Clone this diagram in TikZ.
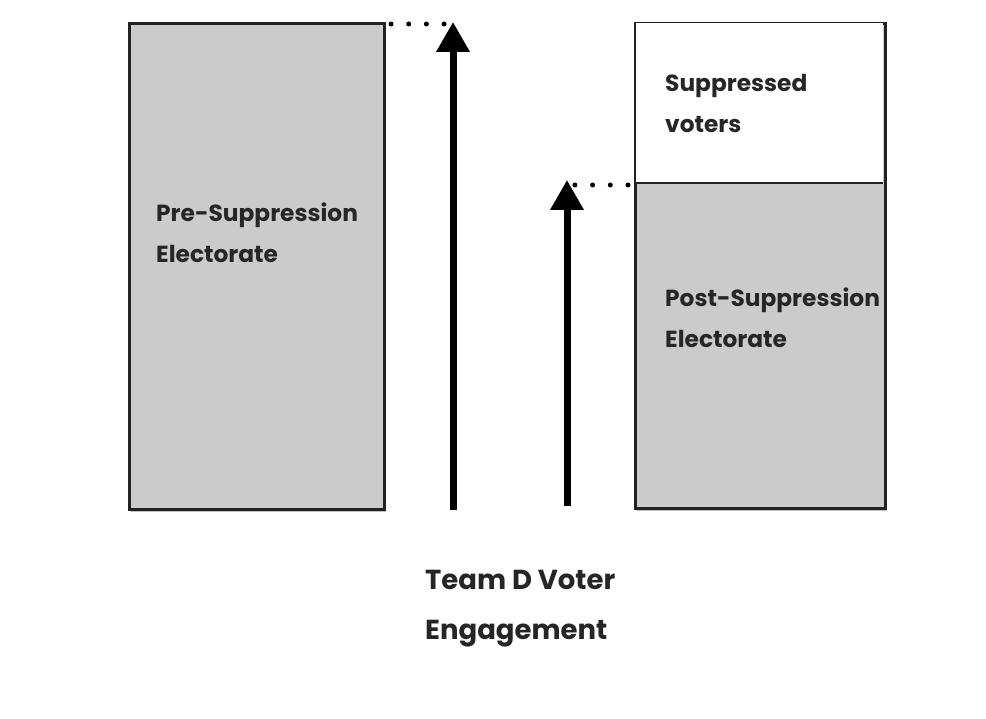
\documentclass[tikz,border=0pt]{standalone}
\usepackage{fontspec}
\setmainfont{Poppins}
\usetikzlibrary{arrows.meta,shadows}
\definecolor{boxgray}{HTML}{CBCBCB}
\definecolor{edge}{HTML}{222222}
\tikzset{
  panel/.style={draw=edge, line width=3pt, fill=boxgray, inner sep=0pt, anchor=north west,
    drop shadow={shadow xshift=1.5pt, shadow yshift=-2pt, opacity=0.25, fill=black}},
  label/.style={anchor=base west, inner sep=0pt, align=left, font=\fontsize{23.3}{41}\selectfont\bfseries, text=black!85},
  bigarrow/.style={line width=7pt, -{Triangle[width=32pt,length=30pt]}, black},
  dots/.style={line width=5pt, line cap=round, dash pattern=on 0pt off 17.7pt, black}
}
\begin{document}
\begin{tikzpicture}[x=1pt,y=-1pt]
\useasboundingbox[fill=white] (0,0) rectangle (986,719);
% left box
\node[panel, minimum width=255pt, minimum height=486pt] (pre) at (128,22) {};
% right box
\node[panel, minimum width=250pt, minimum height=485pt] (post) at (634,22) {};
\fill[white] (635.5,23.5) rectangle (882.5,183);
\draw[edge, line width=1.8pt] (635.5,183) -- (882.5,183) coordinate (divR);
\coordinate (divL) at (635.5,183);
% arrows
\coordinate (a1s) at (453,510);
\coordinate (a1e) at (453,22);
\coordinate (a2s) at (567,506);
\coordinate (a2e) at (567,180);
\draw[bigarrow] (a1s) -- (a1e);
\draw[bigarrow] (a2s) -- (a2e);
% dotted
\coordinate (d1s) at (391,24);
\coordinate (d1e) at (445,24);
\coordinate (d2s) at (571,185);
\coordinate (d2e) at (628,185);
\draw[dots] (d1s) -- (d1e);
\draw[dots] (d2e) -- (d2s);
% labels (anchor = baseline of last line)
\node[label] (tpre) at (156,263) {Pre-Suppression\\Electorate};
\node[label] (tsup) at (665,133) {Suppressed\\voters};
\node[label] (tpost) at (665,348) {Post-Suppression\\Electorate};
\node[label, font=\fontsize{27.5}{50}\selectfont\bfseries] (teng) at (425,639) {Team D Voter\\Engagement};
\end{tikzpicture}
\end{document}
